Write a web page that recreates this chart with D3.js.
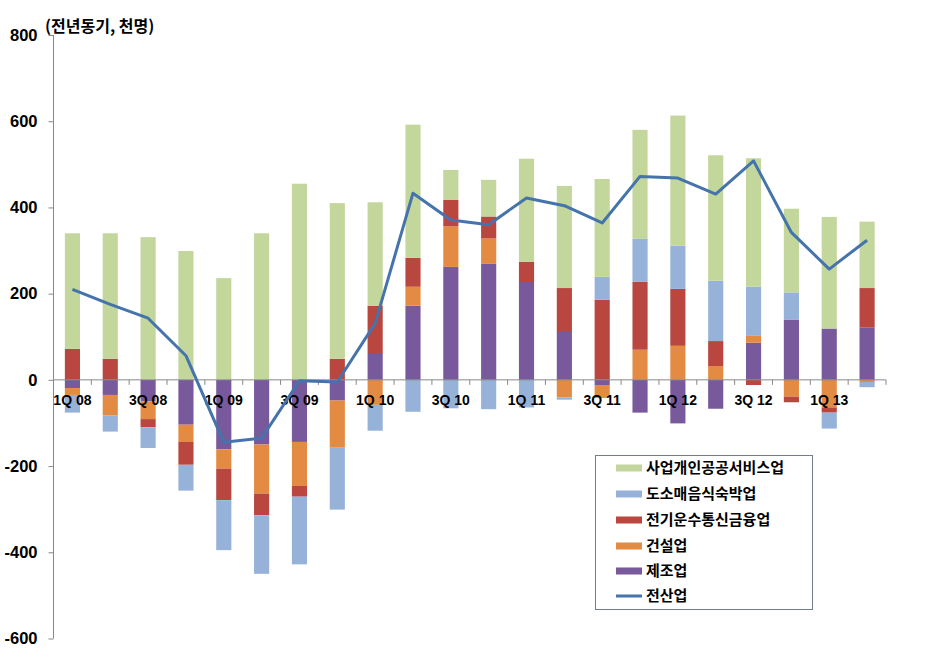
<!DOCTYPE html>
<html><head><meta charset="utf-8">
<script src="https://cdn.jsdelivr.net/npm/d3@7"></script>
<style>body{margin:0;background:#fff}svg{display:block}</style>
</head><body>
<svg id="chart" width="925" height="658"></svg>
<script>
const categories = ["1Q08","2Q08","3Q08","4Q08","1Q09","2Q09","3Q09","4Q09","1Q10","2Q10","3Q10","4Q10","1Q11","2Q11","3Q11","4Q11","1Q12","2Q12","3Q12","4Q12","1Q13","2Q13"];
const tickLabels = ["1Q 08","","3Q 08","","1Q 09","","3Q 09","","1Q 10","","3Q 10","","1Q 11","","3Q 11","","1Q 12","","3Q 12","","1Q 13",""];
const manufacturing = [-19,-35,-50,-104,-161,-150,-144,-48,60,172,262,269,227,111,-12,-76,-101,-67,86,140,119,121];
const construction  = [-16,-47,-41,-40,-45,-114,-102,-108,-58,44,94,59,0,-41,-30,70,79,32,16,-39,-64,-5];
const utilFinance   = [72,49,-19,-53,-73,-50,-25,49,112,67,62,51,47,102,186,158,132,58,-12,-13,-12,92];
const retailFood    = [-41,-38,-48,-60,-116,-136,-157,-145,-60,-74,-66,-68,-64,-5,53,99,100,140,114,63,-37,-12];
const services      = [268,291,331,299,236,340,455,361,240,309,69,85,239,237,227,253,302,291,298,194,259,154];
const allIndustry   = [210,175,143,56,-145,-135,-2,-5,131,433,371,360,422,404,364,472,468,431,508,342,257,324];
const yTicks = [-600,-400,-200,0,200,400,600,800];

const seriesDefs = [
  {key:"manufacturing", name:"제조업", values:manufacturing, color:"#77599c"},
  {key:"construction", name:"건설업", values:construction, color:"#e38b42"},
  {key:"utilFinance", name:"전기운수통신금융업", values:utilFinance, color:"#b9463f"},
  {key:"retailFood", name:"도소매음식숙박업", values:retailFood, color:"#97b2d8"},
  {key:"services", name:"사업개인공공서비스업", values:services, color:"#c3d69c"}
];
const lineColor = "#4573ab";

const rows = categories.map((c,i)=>{const r={cat:c}; seriesDefs.forEach(s=>r[s.key]=s.values[i]); return r;});
const stacked = d3.stack().keys(seriesDefs.map(s=>s.key)).offset(d3.stackOffsetDiverging)(rows);

const svg = d3.select("#chart");
const left = 53.5, right = 886;
const x = d3.scaleBand().domain(categories).range([left,right]).paddingInner(0.6).paddingOuter(0.3);
const y = d3.scaleLinear().domain([-600,800]).range([638.5,35]);
const KR = "'Noto Sans CJK KR', sans-serif";
const NUM = "'Liberation Sans', Arial, sans-serif";

// bars
const g = svg.append("g");
stacked.forEach((layer,si)=>{
  g.append("g").attr("fill",seriesDefs[si].color)
   .selectAll("rect").data(layer).join("rect")
   .attr("x",d=>x(d.data.cat)).attr("width",x.bandwidth())
   .attr("y",d=>y(Math.max(d[0],d[1])))
   .attr("height",d=>Math.abs(y(d[0])-y(d[1])));
});

// y axis
const yAxis = svg.append("g").attr("transform",`translate(${left},0)`)
  .call(d3.axisLeft(y).tickValues(yTicks).tickSize(5).tickPadding(11).tickFormat(d=>String(d)));
yAxis.select(".domain").attr("stroke","#888").attr("d",`M-0,${y(-600)}V${y(800)}`);
yAxis.selectAll(".tick line").attr("stroke","#888");
yAxis.selectAll(".tick text").attr("font-family",NUM).attr("font-weight","bold").attr("font-size",16.5).attr("fill","#000");

// x axis at zero
const x0 = y(0);
svg.append("line").attr("x1",left).attr("x2",right).attr("y1",x0).attr("y2",x0).attr("stroke","#888");
const step = x.step();
const bounds = d3.range(categories.length+1).map(i=>left + i*step);
svg.append("g").selectAll("line").data(bounds).join("line")
  .attr("x1",d=>d).attr("x2",d=>d).attr("y1",x0).attr("y2",x0+5).attr("stroke","#888");
svg.append("g").selectAll("text").data(categories).join("text")
  .attr("x",d=>x(d)+x.bandwidth()/2).attr("y",x0+25)
  .attr("text-anchor","middle").attr("font-family",NUM).attr("font-weight","bold").attr("font-size",14)
  .text((d,i)=>tickLabels[i]);

// line
const line = d3.line().x((d,i)=>x(categories[i])+x.bandwidth()/2).y(d=>y(d));
svg.append("path").datum(allIndustry).attr("d",line).attr("fill","none")
  .attr("stroke",lineColor).attr("stroke-width",3).attr("stroke-linejoin","round");

// title
svg.append("text").attr("x",45).attr("y",32).attr("font-family",KR).attr("font-weight","bold")
  .attr("font-size",16).text("(전년동기, 천명)");

// legend
const lg = svg.append("g");
lg.append("rect").attr("x",595.5).attr("y",455.5).attr("width",217).attr("height",154)
  .attr("fill","#fff").attr("stroke","#6f7c93");
const legendItems = [...seriesDefs].reverse().map(s=>({name:s.name,color:s.color,type:"bar"}))
  .concat([{name:"전산업",color:lineColor,type:"line"}]);
const rowY = [468,494,520,546,571,596];
legendItems.forEach((it,i)=>{
  const cy = rowY[i];
  if(it.type==="bar") lg.append("rect").attr("x",616).attr("y",cy-3.5).attr("width",26).attr("height",7).attr("fill",it.color);
  else lg.append("line").attr("x1",616).attr("x2",642).attr("y1",cy).attr("y2",cy).attr("stroke",it.color).attr("stroke-width",3);
  lg.append("text").attr("x",646).attr("y",cy).attr("dy","0.36em").attr("font-family",KR).attr("font-weight","bold")
    .attr("font-size",15).text(it.name);
});
</script>
</body></html>
